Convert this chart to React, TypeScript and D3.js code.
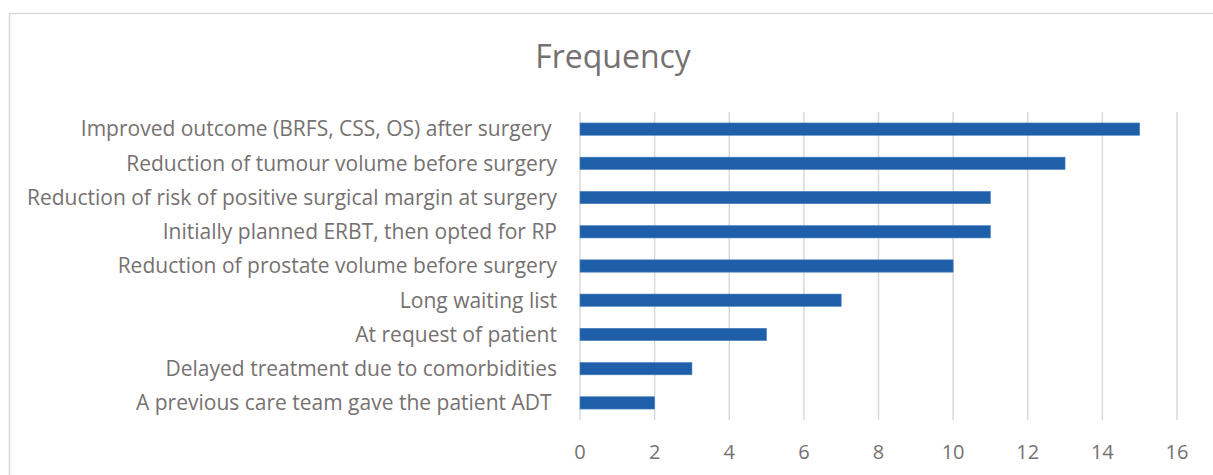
import React from "react";
import { scaleBand, scaleLinear } from "d3";

const categories = [
  "Improved outcome (BRFS, CSS, OS) after surgery ",
  "Reduction of tumour volume before surgery",
  "Reduction of risk of positive surgical margin at surgery",
  "Initially planned ERBT, then opted for RP",
  "Reduction of prostate volume before surgery",
  "Long waiting list",
  "At request of patient",
  "Delayed treatment due to comorbidities",
  "A previous care team gave the patient ADT ",
];
const frequency = [15, 13, 11, 11, 10, 7, 5, 3, 2];
const ticks = [0, 2, 4, 6, 8, 10, 12, 14, 16];

const App = () => {
  React.useEffect(() => {
    document.body.style.margin = "0";
  }, []);

  const width = 1213;
  const height = 475;
  const x0 = 580;
  const x1 = 1177;
  const top = 112;
  const bottom = 420;
  const font = "'Open Sans', sans-serif";
  const gray = "#767171";

  const xScale = scaleLinear().domain([0, 16]).range([x0, x1]);
  const yScale = scaleBand()
    .domain(categories)
    .range([top, bottom])
    .paddingInner(0.64)
    .paddingOuter(0.32);

  return (
    <svg width={width} height={height} style={{ display: "block" }}>
      <rect width={width} height={height} fill="#fff" />
      <rect x={9.5} y={13.5} width={1400} height={800} fill="none" stroke="#d9d9d9" strokeWidth={1.5} />
      <text x={613} y={57} textAnchor="middle" dy="0.35em" fontFamily={font} fontSize={32} fill={gray}>
        Frequency
      </text>
      {ticks.map(t => (
        <g key={`tick-${t}`} transform={`translate(${xScale(t)}, 0)`}>
          <line y1={top} y2={bottom} stroke="#d9d9d9" strokeWidth={1.5} />
          <text y={452} dy="0.35em" textAnchor="middle" fontFamily={font} fontSize={20} fill={gray}>
            {t}
          </text>
        </g>
      ))}
      {categories.map((c, i) => (
        <g key={`row-${i}`} transform={`translate(0, ${yScale(c)})`}>
          <text
            x={557}
            y={yScale.bandwidth() / 2}
            dy="0.35em"
            textAnchor="end"
            fontFamily={font}
            fontSize={21}
            fill={gray}
            style={{ whiteSpace: "pre" }}
          >
            {c}
          </text>
          <rect
            x={xScale(0)}
            width={xScale(frequency[i]) - xScale(0)}
            height={yScale.bandwidth()}
            fill="#1f5fa9"
            stroke="#4a80bf"
            strokeWidth={0.6}
          />
        </g>
      ))}
    </svg>
  );
};

export default App;
